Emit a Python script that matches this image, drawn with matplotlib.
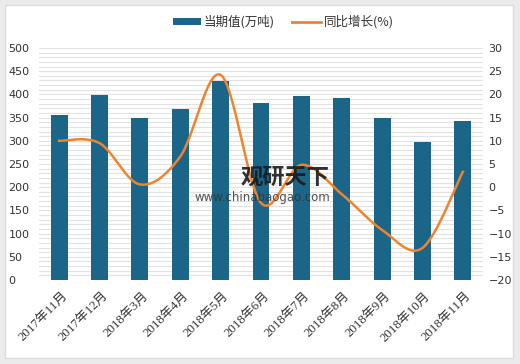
import numpy as np
import matplotlib
matplotlib.use("Agg")
import matplotlib.pyplot as plt
from matplotlib.patches import Rectangle
from matplotlib.lines import Line2D
from matplotlib.patches import Patch

categories = ["2017年11月", "2017年12月", "2018年3月", "2018年4月", "2018年5月",
              "2018年6月", "2018年7月", "2018年8月", "2018年9月", "2018年10月", "2018年11月"]
volume = [356, 399, 350, 368, 429, 382, 396, 392, 350, 297, 342]
growth = [10.0, 9.5, 0.6, 6.6, 24.2, -3.4, 4.8, -1.5, -9.2, -13.1, 3.3]

bar_color = "#1b6688"
line_color = "#f0832d"

plt.rcParams['font.family'] = ['DejaVu Sans', 'Noto Sans CJK SC']

fig = plt.figure(figsize=(5.2, 3.64), dpi=100)
fig.patch.set_facecolor("#ebebeb")
fig.patches.append(Rectangle((5/520, 1-358/364), 508/520, 353/364, transform=fig.transFigure,
                             facecolor="white", edgecolor="#dcdcdc", lw=1, zorder=-10))

ax = fig.add_axes([39/520, 1-280/364, 444/520, 232/364])
ax.set_facecolor("none")
x = np.arange(len(categories))
ax.bar(x, volume, width=0.42, color=bar_color, zorder=3)
ax.set_xlim(-0.5, len(categories) - 0.5)
ax.set_ylim(0, 500)
ax.set_yticks(np.arange(0, 501, 50))
for yy in np.arange(0, 501, 10):
    ax.axhline(yy, color="#e2e2e2", lw=0.8, zorder=1)
for s in ax.spines.values():
    s.set_visible(False)
ax.tick_params(axis='y', length=0, labelsize=8, colors="#333333", pad=22)
for lab in ax.get_yticklabels():
    lab.set_horizontalalignment('left')
ax.set_xticks(x + 0.05)
ax.set_xticklabels(categories, rotation=45, ha='right', rotation_mode='anchor',
                   family=['Liberation Serif', 'Noto Sans CJK SC'], fontsize=9.3, color="#333333")
ax.tick_params(axis='x', length=0, pad=7)

ax2 = ax.twinx()
ax2.set_ylim(-20, 30)
ax2.set_yticks(np.arange(-20, 31, 5))
ax2.set_yticklabels([str(v).replace('-', '\u2212') for v in range(-20, 31, 5)])
for s in ax2.spines.values():
    s.set_visible(False)
ax2.tick_params(axis='y', length=0, labelsize=8, colors="#333333", pad=4)

# smooth curve through the data points (Catmull-Rom rendering)
px = x.astype(float)
py = np.array(growth, dtype=float)
xs, ys = [], []
n = len(px)
for i in range(n - 1):
    p0 = (px[i-1], py[i-1]) if i > 0 else (px[i], py[i])
    p1 = (px[i], py[i]); p2 = (px[i+1], py[i+1])
    p3 = (px[i+2], py[i+2]) if i + 2 < n else (px[i+1], py[i+1])
    t = np.linspace(0, 1, 30)
    for k in range(2):
        a0, a1, a2, a3 = p0[k], p1[k], p2[k], p3[k]
        v = 0.5 * ((2*a1) + (-a0 + a2)*t + (2*a0 - 5*a1 + 4*a2 - a3)*t**2 + (-a0 + 3*a1 - 3*a2 + a3)*t**3)
        (xs if k == 0 else ys).extend(v)
ax2.plot(xs, ys, color=line_color, lw=1.8, zorder=4)

fig.text(285/520, 1-177/364, "观研天下", fontsize=16, fontweight='bold', color="#1a1a1a",
         ha='center', va='center', alpha=0.9, family=['Noto Sans CJK SC'], zorder=10)
fig.text(262/520, 1-197/364, "www.chinabaogao.com", fontsize=8.5, color="#333333",
         ha='center', va='center', alpha=0.85, zorder=10)

handles = [Patch(facecolor=bar_color, edgecolor='none'), Line2D([], [], color=line_color, lw=2)]
fig.legend(handles, ["当期值(万吨)", "同比增长(%)"], loc='center', bbox_to_anchor=(283/520, 1-22/364),
           ncol=2, frameon=False, handlelength=2.3, handleheight=0.45,
           columnspacing=1.4, handletextpad=0.2, labelcolor="#333333",
           prop={'family': ['Noto Sans CJK SC'], 'size': 9})

fig.savefig("out.png", dpi=100)
